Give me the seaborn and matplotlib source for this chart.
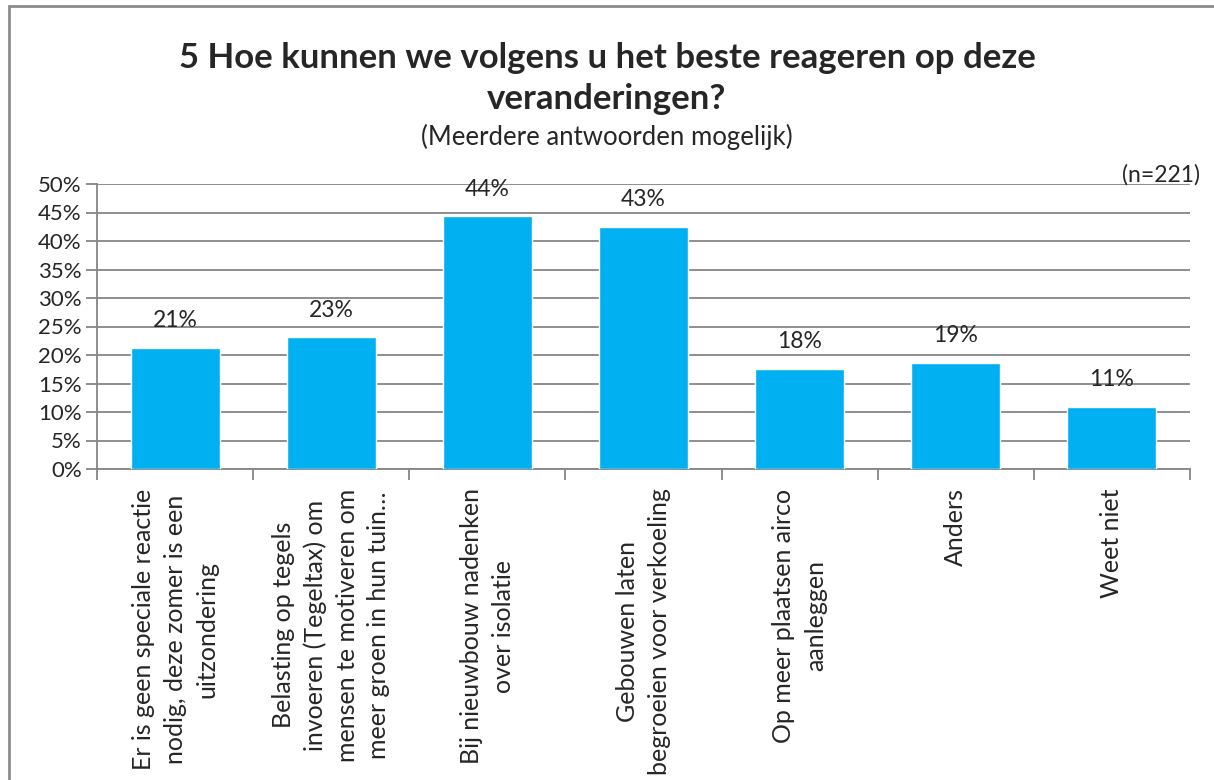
import numpy as np
import pandas as pd
import matplotlib.pyplot as plt
import matplotlib.patches as mpatches
import seaborn as sns

categories = [
    "Er is geen speciale reactie\nnodig, deze zomer is een\nuitzondering",
    "Belasting op tegels\ninvoeren (Tegeltax) om\nmensen te motiveren om\nmeer groen in hun tuin\u2026",
    "Bij nieuwbouw nadenken\nover isolatie",
    "Gebouwen laten\nbegroeien voor verkoeling",
    "Op meer plaatsen airco\naanleggen",
    "Anders",
    "Weet niet",
]
values = [21.2, 23.1, 44.3, 42.5, 17.6, 18.6, 10.9]
value_labels = ["21%", "23%", "44%", "43%", "18%", "19%", "11%"]
yticks = [0, 5, 10, 15, 20, 25, 30, 35, 40, 45, 50]

sns.set_style("white")
plt.rcParams['font.family'] = ['Lato', 'DejaVu Sans']

df = pd.DataFrame({"cat": categories, "val": values})

fig = plt.figure(figsize=(12.14, 7.8), dpi=100)
ax = fig.add_axes([97 / 1214, 1 - 469 / 780, (1190 - 97) / 1214, (469 - 184) / 780])

sns.barplot(data=df, x="cat", y="val", color="#00B0F0", width=0.57,
            saturation=1, ax=ax, zorder=3)

ax.set_xlim(-0.5, len(categories) - 0.5)
ax.set_ylim(0, 50)
ax.set_yticks(yticks)
ax.set_yticklabels([f"{t}%" for t in yticks], fontsize=16)
ax.yaxis.grid(True, color="#868686", linewidth=1.3, zorder=0)
ax.set_axisbelow(True)
ax.tick_params(axis="y", length=8, color="#868686", width=1.3, pad=3, direction="out", left=True)

# category labels at centres, tick marks at boundaries
ax.set_xticks(range(len(categories)))
ax.set_xticklabels(categories, rotation=90, fontsize=18, va="top", ha="center",
                   multialignment="center", linespacing=1.45)
ax.tick_params(axis="x", which="major", length=0, pad=14)
ax.set_xticks(np.arange(-0.5, len(categories), 1), minor=True)
ax.tick_params(axis="x", which="minor", length=8, color="#868686", width=1.3, direction="out", bottom=True)

for s in ["top", "right"]:
    ax.spines[s].set_visible(False)
for s in ["left", "bottom"]:
    ax.spines[s].set_color("#868686")
    ax.spines[s].set_linewidth(1.3)

ax.set_xlabel("")
ax.set_ylabel("")

ax.bar_label(ax.containers[0], labels=value_labels, padding=12, fontsize=16.5)

fig.text(0.5, 1 - 58 / 780, "5 Hoe kunnen we volgens u het beste reageren op deze",
         ha="center", va="center", fontsize=25, fontweight="bold")
fig.text(0.5, 1 - 99 / 780, "veranderingen?",
         ha="center", va="center", fontsize=25, fontweight="bold")
fig.text(0.5, 1 - 137 / 780, "(Meerdere antwoorden mogelijk)",
         ha="center", va="center", fontsize=18.5)
fig.text(1200 / 1214, 1 - 175 / 780, "(n=221)", ha="right", va="center", fontsize=16.5)

border = mpatches.Rectangle((9 / 1214, -0.1), 1.2, 1.1 - 6 / 780, transform=fig.transFigure,
                            fill=False, edgecolor="#8c8c8c", linewidth=2, clip_on=False)
fig.patches.append(border)

fig.savefig("out.png", dpi=100)
